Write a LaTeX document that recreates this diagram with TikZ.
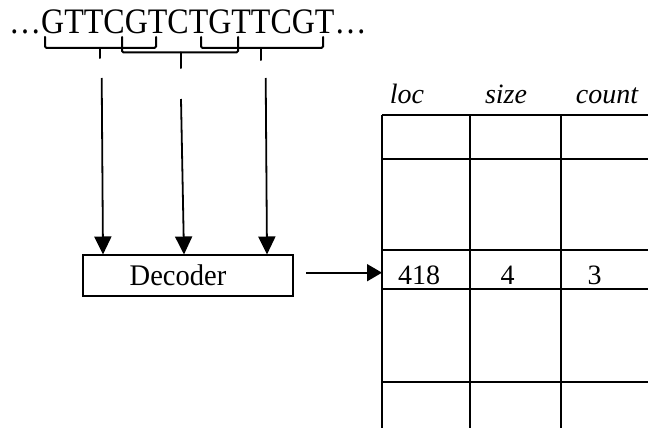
\documentclass[tikz,border=0pt]{standalone}
\usepackage{fontspec}
\usepackage{graphicx}
\setmainfont{Liberation Serif}
\usetikzlibrary{arrows.meta}
\begin{document}
\begin{tikzpicture}[x=1pt,y=-1pt,
  brace/.style={line width=2pt,rounded corners=1.5pt,line cap=round},
  flow/.style={line width=1.8pt,-{Triangle[length=18pt,width=17pt]}},
  feed/.style={line width=1.8pt,-{Triangle[length=15pt,width=17pt]}},
  grid/.style={line width=1.7pt},
  box/.style={draw,line width=2pt,minimum width=210pt,minimum height=41pt,inner sep=0pt,font=\fontsize{28.5}{30}\selectfont},
  head/.style={anchor=base,inner sep=0pt,font=\fontsize{28}{30}\selectfont\itshape},
  cell/.style={anchor=base,inner sep=0pt,font=\fontsize{28}{30}\selectfont}]
\useasboundingbox (0,0) rectangle (648,428);

% input sequence
\node[anchor=base west,inner sep=0pt,font=\fontsize{32}{34}\selectfont] (seq) at (9,34)
  {\scalebox{1}[1.12]{…GTTCGTCTGTTCGT…}};

% sliding windows over the sequence
\draw[brace] (45,37) -- (45,48) -- (156,48) -- (156,37);
\draw[brace] (100,48) -- (100,58);
\draw[brace] (122,37) -- (122,52.5) -- (238,52.5) -- (238,37);
\draw[brace] (181,52.5) -- (181,68);
\draw[brace] (201,37) -- (201,48) -- (323,48) -- (323,37);
\draw[brace] (261,48) -- (261,60);

% decoder (label sits a little left of the box centre)
\node[box] (dec) at (188,275.5) {\scalebox{1}[1.05]{Decoder}\hspace*{20pt}};

\coordinate (w1) at (101.7,78);
\coordinate (w2) at (181,99);
\coordinate (w3) at (265.7,78);
\draw[flow] (w1) -- (103,254.5);
\draw[flow] (w2) -- (184,254.5);
\draw[flow] (w3) -- (267,254.5);

% hash table
\foreach \y in {115,159,250,289,382}
  \draw[grid] (382,\y) -- (648,\y);
\foreach \x in {382,470,561}
  \draw[grid] (\x,115) -- (\x,428);

\node[head] (hloc) at (407,103) {loc};
\node[head] (hsize) at (506,103) {size};
\node[head] (hcount) at (607,103) {count};

\node[cell] (vloc) at (419,284.5) {418};
\node[cell] (vsize) at (507.5,284.5) {4};
\node[cell] (vcount) at (594.5,284.5) {3};

\coordinate (slot) at (382,272.7);
\draw[feed] (306,272.7) -- (slot);
\end{tikzpicture}
\end{document}
